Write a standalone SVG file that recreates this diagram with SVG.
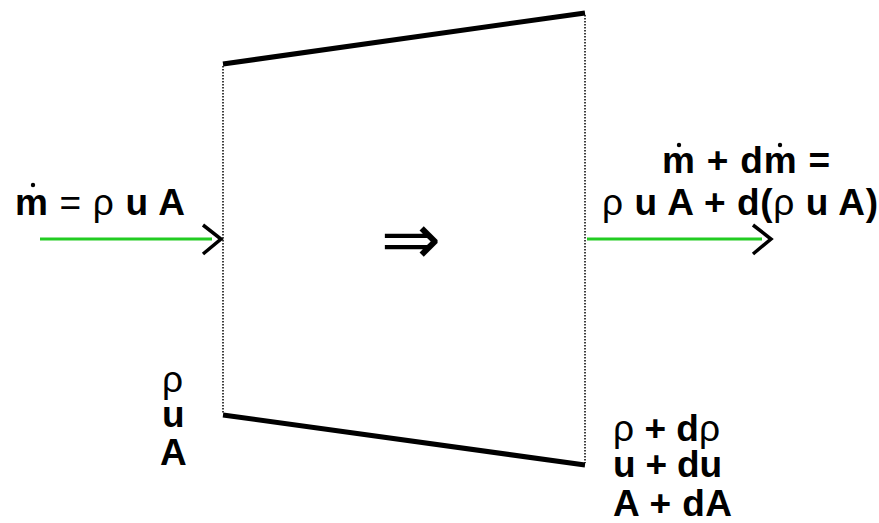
<svg xmlns="http://www.w3.org/2000/svg" width="879" height="523" viewBox="0 0 879 523">
<style>
.wall{stroke:#000;stroke-width:5;fill:none}
.dot{stroke:#000;stroke-width:1.5;stroke-dasharray:1.5 1.5;fill:none}
.flow{stroke:#22cc22;stroke-width:3;fill:none}
.head{stroke:#000;stroke-width:3.5;fill:none;stroke-linejoin:miter}
.t{font-family:"Liberation Sans",Arial,sans-serif;font-weight:bold;font-size:37px;fill:#000}
.g{font-weight:normal}
</style>
<rect width="879" height="523" fill="#fff"/>
<g id="duct">
<line class="wall" x1="223" y1="64" x2="585" y2="13"/>
<line class="wall" x1="223" y1="415" x2="585" y2="465"/>
<line class="dot" x1="223" y1="66" x2="223" y2="413"/>
<line class="dot" x1="585" y1="15" x2="585" y2="463"/>
</g>
<g id="connectors">
<line class="flow" x1="40" y1="239" x2="212" y2="239"/>
<path class="head" d="M203 225 L221 239 L203 254"/>
<line class="flow" x1="587" y1="239" x2="762" y2="239"/>
<path class="head" d="M753 225 L771 239 L753 254"/>
</g>
<g id="inflow-label">
<text class="t" x="15" y="215" textLength="170" lengthAdjust="spacing">m<tspan class="g"> = ρ </tspan>u A</text>
<circle cx="33" cy="185" r="2.2" fill="#000"/>
</g>
<g id="outflow-label">
<text class="t" x="662" y="173" textLength="168" lengthAdjust="spacing">m + dm =</text>
<circle cx="679" cy="145" r="2.2" fill="#000"/>
<circle cx="780" cy="145" r="2.2" fill="#000"/>
<text class="t" x="602" y="215" textLength="276" lengthAdjust="spacing"><tspan class="g">ρ </tspan>u A + d(<tspan class="g">ρ </tspan>u A)</text>
</g>
<g id="center-arrow">
<text x="411" y="264" text-anchor="middle" font-family="DejaVu Sans,sans-serif" font-size="72" fill="#000">⇒</text>
</g>
<g id="inlet-props">
<text class="t" x="162" y="392"><tspan class="g">ρ</tspan></text>
<text class="t" x="162" y="427">u</text>
<text class="t" x="160" y="465">A</text>
</g>
<g id="outlet-props">
<text class="t" x="613" y="441" textLength="107" lengthAdjust="spacing"><tspan class="g">ρ</tspan> + d<tspan class="g">ρ</tspan></text>
<text class="t" x="613" y="477" textLength="109" lengthAdjust="spacing">u + du</text>
<text class="t" x="613" y="516" textLength="119" lengthAdjust="spacing">A + dA</text>
</g>
</svg>
